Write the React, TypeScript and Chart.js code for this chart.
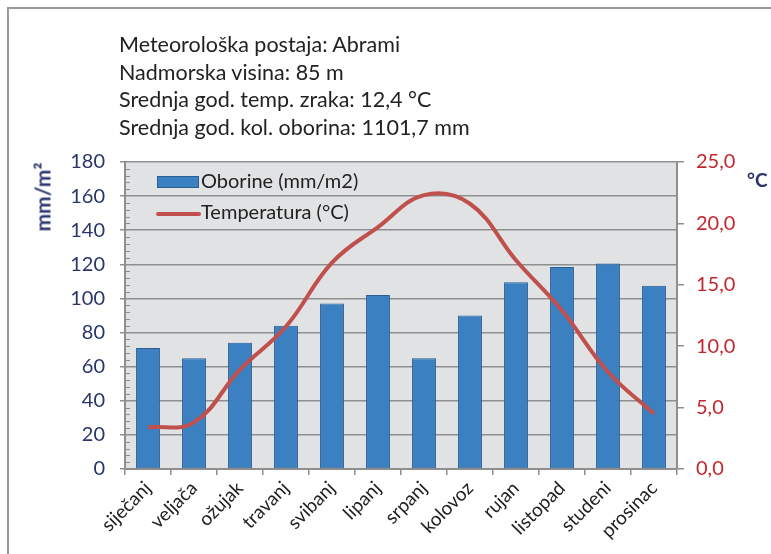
import React, { useEffect, useRef } from "react";
import { Chart, registerables } from "chart.js";

Chart.register(...registerables);

const months = [
  "siječanj", "veljača", "ožujak", "travanj", "svibanj", "lipanj",
  "srpanj", "kolovoz", "rujan", "listopad", "studeni", "prosinac",
];
const precipitation = [71, 65, 74, 84, 97, 102, 65, 90, 109.5, 118.5, 120.5, 107.5];
const temperature = [3.4, 3.8, 8.1, 11.6, 16.8, 19.7, 22.3, 21.6, 17.0, 12.9, 7.9, 4.5];
const titleLines = [
  "Meteorološka postaja: Abrami",
  "Nadmorska visina: 85 m",
  "Srednja god. temp. zraka: 12,4 °C",
  "Srednja god. kol. oborina: 1101,7 mm",
];
const precipLabel = "Oborine (mm/m2)";
const tempLabel = "Temperatura (°C)";
const leftAxisTitle = "mm/m²";
const rightAxisTitle = "°C";
const leftRange = { min: 0, max: 180, step: 20, minor: 4 };
const rightRange = { min: 0, max: 25, step: 5 };

const FONT = "Lato, 'Open Sans', sans-serif";
const NAVY = "#2b356b";
const RED = "#c4262e";
const GRID = "#8f8f8f";

const plotBg = {
  id: "plotBg",
  beforeDraw(chart: any) {
    const { ctx, chartArea: a } = chart;
    ctx.save();
    ctx.fillStyle = "#e1e2e4";
    ctx.fillRect(a.left, a.top, a.right - a.left, a.bottom - a.top);
    ctx.restore();
  },
};

const minorTicks = {
  id: "minorTicks",
  afterDraw(chart: any) {
    const { ctx, chartArea: a } = chart;
    const y = chart.scales.y;
    ctx.save();
    ctx.strokeStyle = GRID;
    ctx.lineWidth = 1;
    for (let v = leftRange.min; v <= leftRange.max; v += leftRange.minor) {
      if (v % leftRange.step === 0) continue;
      const py = Math.round(y.getPixelForValue(v)) + 0.5;
      ctx.beginPath();
      ctx.moveTo(a.left, py);
      ctx.lineTo(a.left + 5, py);
      ctx.stroke();
    }
    ctx.restore();
  },
};

const insideLegend = {
  id: "insideLegend",
  afterDatasetsDraw(chart: any) {
    const { ctx, chartArea: a } = chart;
    const ds = chart.data.datasets;
    const bar = ds.find((d: any) => d.type === "bar");
    const line = ds.find((d: any) => d.type === "line");
    ctx.save();
    const x0 = a.left + 32;
    ctx.fillStyle = bar.backgroundColor;
    ctx.strokeStyle = bar.borderColor;
    ctx.lineWidth = 1;
    ctx.fillRect(x0, 176, 41, 11);
    ctx.strokeRect(x0 + 0.5, 176.5, 41, 11);
    ctx.strokeStyle = line.borderColor;
    ctx.lineWidth = 4;
    ctx.lineCap = "round";
    ctx.beginPath();
    ctx.moveTo(x0 + 1, 214);
    ctx.lineTo(x0 + 42, 214);
    ctx.stroke();
    ctx.fillStyle = "#222";
    ctx.font = `20px ${FONT}`;
    ctx.textBaseline = "middle";
    ctx.fillText(bar.label, x0 + 44, 182);
    ctx.fillText(line.label, x0 + 44, 213);
    ctx.restore();
  },
};

export default function App() {
  const ref = useRef<HTMLCanvasElement | null>(null);

  useEffect(() => {
    if (!ref.current) return;
    const chart = new Chart(ref.current, {
      type: "bar",
      data: {
        labels: months,
        datasets: [
          {
            type: "line",
            label: tempLabel,
            data: temperature,
            yAxisID: "y1",
            borderColor: "#c0504d",
            backgroundColor: "#c0504d",
            borderWidth: 4,
            pointRadius: 0,
            tension: 0.4,
            order: 0,
          } as any,
          {
            type: "bar",
            label: precipLabel,
            data: precipitation,
            yAxisID: "y",
            backgroundColor: "#3b80c1",
            borderColor: "#2c5e93",
            borderWidth: 1,
            borderSkipped: false,
            barPercentage: 1,
            categoryPercentage: 0.52,
            order: 1,
          } as any,
        ],
      },
      options: {
        animation: false,
        responsive: true,
        maintainAspectRatio: false,
        layout: { padding: { top: 162, left: 0, right: 0, bottom: 0 } },
        plugins: {
          legend: { display: false },
          tooltip: { enabled: false },
        },
        scales: {
          x: {
            grid: {
              offset: true,
              drawOnChartArea: false,
              drawTicks: true,
              tickLength: 6,
              color: GRID,
              lineWidth: 1.5,
            },
            border: { color: GRID, width: 2 },
            ticks: {
              color: "#222",
              font: { family: FONT, size: 19 },
              maxRotation: 45,
              minRotation: 45,
              padding: 2,
            },
            afterFit(scale: any) {
              scale.height = 85;
            },
          },
          y: {
            position: "left",
            min: leftRange.min,
            max: leftRange.max,
            ticks: {
              stepSize: leftRange.step,
              color: NAVY,
              font: { family: FONT, size: 20 },
              padding: 15,
            },
            grid: { color: GRID, lineWidth: 1.5, tickLength: 5 },
            border: { color: GRID, width: 2 },
            afterFit(scale: any) {
              scale.width = 125;
            },
          },
          y1: {
            position: "right",
            min: rightRange.min,
            max: rightRange.max,
            ticks: {
              stepSize: rightRange.step,
              color: RED,
              font: { family: FONT, size: 20 },
              padding: 12,
              callback: (v: any) => Number(v).toFixed(1).replace(".", ","),
            },
            grid: { drawOnChartArea: false, color: GRID, lineWidth: 1.5, tickLength: 7 },
            border: { color: GRID, width: 2 },
            afterFit(scale: any) {
              scale.width = 94;
            },
          },
        },
      },
      plugins: [plotBg, minorTicks, insideLegend],
    });
    return () => chart.destroy();
  }, []);

  return (
    <div
      style={{
        position: "fixed",
        left: 0,
        top: 0,
        width: 771,
        height: 554,
        background: "#fff",
        overflow: "hidden",
        fontFamily: FONT,
      }}
    >
      <div
        style={{
          position: "absolute",
          left: 7,
          top: 7,
          width: 800,
          height: 600,
          borderTop: "2px solid #9a9a9a",
          borderLeft: "2px solid #9a9a9a",
          boxSizing: "border-box",
        }}
      />
      <canvas ref={ref} style={{ position: "absolute", left: 0, top: 0, width: 771, height: 554 }} />
      <div
        style={{
          position: "absolute",
          left: 119,
          top: 31,
          fontSize: 21.5,
          lineHeight: "27.7px",
          color: "#222",
          whiteSpace: "nowrap",
        }}
      >
        {titleLines.map((t) => (
          <div key={t}>{t}</div>
        ))}
      </div>
      <div
        style={{
          position: "absolute",
          left: 42,
          top: 197,
          transform: "translate(-50%, -50%) rotate(-90deg)",
          fontSize: 21,
          fontWeight: "bold",
          color: NAVY,
          whiteSpace: "nowrap",
        }}
      >
        {leftAxisTitle}
      </div>
      <div
        style={{
          position: "absolute",
          left: 747,
          top: 168,
          fontSize: 19,
          fontWeight: "bold",
          color: NAVY,
          whiteSpace: "nowrap",
        }}
      >
        {rightAxisTitle}
      </div>
    </div>
  );
}
